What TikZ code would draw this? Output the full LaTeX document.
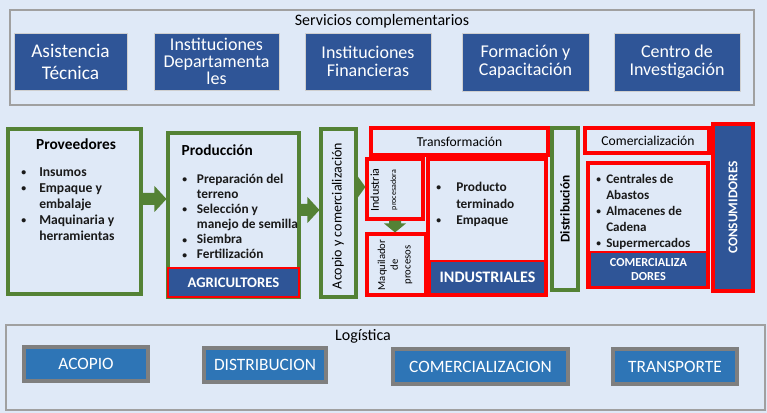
\documentclass[tikz,border=0pt]{standalone}
\usepackage{fontspec}
\setmainfont{Carlito}
\usetikzlibrary{fit,calc}
\definecolor{bgc}{HTML}{DFE9F7}
\definecolor{dblue}{HTML}{2F5597}
\definecolor{lblue}{HTML}{2E75B6}
\definecolor{grn}{HTML}{548235}
\definecolor{pgray}{HTML}{A0A0A0}
\definecolor{lgray}{HTML}{7F7F7F}
\definecolor{txt}{HTML}{1A1A1A}
\newcommand\fs[2]{\fontsize{#1}{#2}\selectfont}
\newcommand\bul[1]{\makebox[#1][l]{\raisebox{0.6pt}{\scalebox{0.72}{\textbullet}}}}
\newcommand\harr[5]{\fill[grn] ($(#1)+(0,-#3)$) -- ($(#2)+(-#5,-#3)$) -- ($(#2)+(-#5,-#4)$) -- (#2) -- ($(#2)+(-#5,#4)$) -- ($(#2)+(-#5,#3)$) -- ($(#1)+(0,#3)$) -- cycle;}
\newcommand\varr[5]{\fill[grn] ($(#1)+(-#3,0)$) -- ($(#2)+(-#3,-#5)$) -- ($(#2)+(-#4,-#5)$) -- (#2) -- ($(#2)+(#4,-#5)$) -- ($(#2)+(#3,-#5)$) -- ($(#1)+(#3,0)$) -- cycle;}
\begin{document}
\begin{tikzpicture}[x=0.75pt,y=-0.75pt,
 panel/.style={draw=pgray, line width=1.1pt, inner sep=0},
 topbox/.style={fill=dblue, draw=pgray!50, line width=0.5pt, inner sep=0},
 toptxt/.style={text=white, align=center, inner sep=0},
 gbox/.style={draw=grn, line width=2.3pt, inner sep=0},
 rbox/.style={draw=red, line width=2.3pt, inner sep=0},
 bbar/.style={fill=dblue, draw=red, line width=2pt, inner sep=0},
 bartxt/.style={text=white, align=center, inner sep=0},
 logbox/.style={fill=lblue, draw=lgray, line width=3pt, inner sep=0},
 logtxt/.style={text=white, inner sep=0, font=\fs{13}{15}},
 lst/.style={anchor=north west, align=left, inner sep=0, text=txt},
 ]
\fill[bgc] (0,0) rectangle (767,413);
\useasboundingbox (0,0) rectangle (767,413);

% Servicios complementarios
\node[panel, fit={(10,10) (754,105)}] (serv) {};
\node[font=\fs{12}{14}] (servt) at (382,21) {Servicios complementarios};
\node[topbox, fit={(14,33) (127,90)}] (ast) {};
\node[toptxt, font=\fs{14.5}{16.5}] (astt) at (ast.center) {Asistencia\\Técnica};
\node[topbox, fit={(154,33) (279,90)}] (idep) {};
\node[toptxt, font=\fs{13.5}{12.8}] (idept) at (idep.center) {Instituciones\\Departamenta\\les};
\node[topbox, fit={(305,33) (431,90)}] (ifin) {};
\node[toptxt, font=\fs{13.5}{13.5}] (ifint) at (ifin.center) {Instituciones\\Financieras};
\node[topbox, fit={(462,33) (589,91)}] (form) {};
\node[toptxt, font=\fs{13.5}{13.5}] (formt) at (form.center) {Formación y\\Capacitación};
\node[topbox, fit={(614,33) (740,91)}] (cinv) {};
\node[toptxt, font=\fs{13.5}{13.5}] (cinvt) at (cinv.center) {Centro de\\Investigación};

% Proveedores
\node[gbox, fit={(8,129) (141,294)}] (prov) {};
\node[font=\bfseries\fs{11.5}{13}] (provt) at (76,144) {Proveedores};
\node[lst, font=\bfseries\fs{10.2}{12}] (provl) at (21,167) {\bul{13.5pt}Insumos\\\bul{13.5pt}Empaque y\\\hspace*{13.5pt}embalaje\\\bul{13.5pt}Maquinaria y\\\hspace*{13.5pt}herramientas};

% Produccion
\node[gbox, fit={(168,133) (299,297)}] (prod) {};
\node[font=\bfseries\fs{11.5}{13}, anchor=west] (prodt) at (177,150) {Producción};
\node[lst, font=\bfseries\fs{10}{11.3}] (prodl) at (182,174) {\bul{11pt}Preparación del\\\hspace*{11pt}terreno\\\bul{11pt}Selección y\\\hspace*{11pt}manejo de semilla\\\bul{11pt}Siembra\\\bul{11pt}Fertilización};
\node[bbar, fit={(168,268) (299,297)}] (agri) {};
\node[bartxt, font=\bfseries\fs{11}{13}] (agrit) at (agri.center) {AGRICULTORES};

% Acopio
\node[gbox, fit={(321,129) (356,297)}] (acop) {};
\node[rotate=90, font=\fs{10.5}{12}] (acopt) at (338,216) {Acopio y comercialización};

% Transformacion
\node[rbox, fit={(371,128) (548,155)}] (trans) {};
\node[font=\fs{10.2}{12}, inner sep=0] (transt) at (trans.center) {Transformación};
\node[rbox, fit={(367,159) (423,219)}] (indp) {};
\node[rotate=90, align=center, font=\fs{9}{13}] (indpt) at (384,190) {Industria\\{\fs{6}{7}procesadora}};
\node[rbox, fit={(367,234) (426,295)}] (maq) {};
\node[rotate=90, align=center, font=\fs{8}{9.5}] (maqt) at (395,265) {Maquilador\\de\\procesos};
\node[rbox, fit={(428,159) (546,295)}] (indb) {};
\node[lst, font=\bfseries\fs{10}{12.4}] (indl) at (436,182) {\bul{15pt}Producto\\\hspace*{15pt}terminado\\\bul{15pt}Empaque};
\node[bbar, fit={(430,261) (545,294)}] (indu) {};
\node[bartxt, font=\bfseries\fs{12}{14}] (indut) at (indu.center) {INDUSTRIALES};

% Distribucion
\node[gbox, fit={(552,128) (578,290)}] (dist) {};
\node[rotate=90, font=\bfseries\fs{10}{12}] (distt) at (dist.center) {Distribución};

% Comercializacion
\node[rbox, fit={(585,128) (709,153)}] (comt) {};
\node[font=\fs{10.2}{12}, inner sep=0] (comtt) at (648,140.5) {Comercialización};
\node[rbox, fit={(588,163) (708,287)}] (comb) {};
\node[lst, font=\bfseries\fs{9.8}{12}] (coml) at (596,174) {\bul{7.5pt}Centrales de\\\hspace*{7.5pt}Abastos\\\bul{7.5pt}Almacenes de\\\hspace*{7.5pt}Cadena\\\bul{7.5pt}Supermercados};
\node[bbar, fit={(590,252) (707,287)}] (comd) {};
\node[bartxt, font=\bfseries\fs{9.2}{11}] (comdt) at (comd.center) {COMERCIALIZA\\DORES};

% Consumidores
\node[fill=dblue, draw=red, line width=3pt, inner sep=0, fit={(713,124) (753,291)}] (cons) {};
\node[rotate=90, text=white, font=\bfseries\fs{10}{12}] (const) at (cons.center) {CONSUMIDORES};

% arrows
\coordinate (a1s) at (prov.east |- 0,199);
\coordinate (a1e) at (prod.west |- 0,199);
\harr{a1s}{a1e}{6}{13}{12}
\coordinate (a2s) at (prod.east |- 0,210);
\coordinate (a2e) at (acop.west |- 0,210);
\harr{a2s}{a2e}{6}{13}{12}
\coordinate (a3s) at (acop.east |- 0,187);
\coordinate (a3e) at (indp.west |- 0,187);
\harr{a3s}{a3e}{5}{11}{8}
\coordinate (a4s) at (indp.south);
\coordinate (a4e) at (maq.north -| indp.south);
\varr{a4s}{a4e}{6}{11}{9}

% Logistica
\node[panel, fit={(6,325) (765,410)}] (logp) {};
\node[font=\fs{12}{14}] (logt) at (363,336) {Logística};
\node[logbox, fit={(24,347) (148,381)}] (lac) {};
\node[logtxt] (lact) at (lac.center) {ACOPIO};
\node[logbox, fit={(204,348) (326,382)}] (ldi) {};
\node[logtxt] (ldit) at (ldi.center) {DISTRIBUCION};
\node[logbox, fit={(393,349) (568,384)}] (lco) {};
\node[logtxt] (lcot) at (lco.center) {COMERCIALIZACION};
\node[logbox, fit={(613,349) (737,384)}] (ltr) {};
\node[logtxt] (ltrt) at (ltr.center) {TRANSPORTE};
\end{tikzpicture}
\end{document}
